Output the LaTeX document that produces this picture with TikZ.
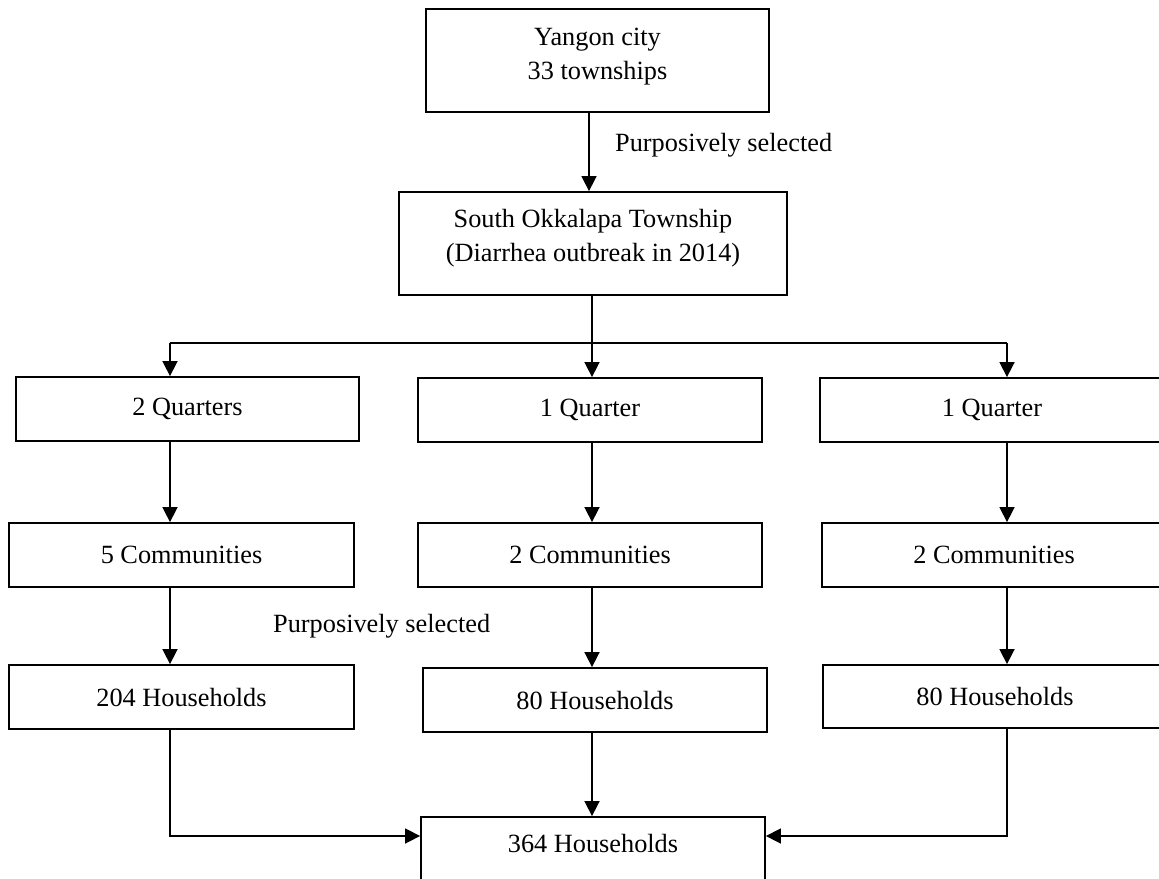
\documentclass[tikz,border=0pt]{standalone}
\usepackage{fontspec}
\setmainfont{Liberation Serif}
\usetikzlibrary{arrows.meta}
\begin{document}
\begin{tikzpicture}[x=1pt,y=-1pt,
  box/.style={draw, line width=1.8pt, inner sep=0pt, align=center,
    font=\fontsize{26.3}{34}\selectfont},
  conn/.style={line width=1.6pt},
  arr/.style={line width=1.6pt, -{Triangle[length=15pt,width=15pt]}},
  lbl/.style={font=\fontsize{26.3}{34}\selectfont, inner sep=0pt}]
\useasboundingbox (0,0) rectangle (1159,878);
% nodes
\node[box, minimum width=343pt, minimum height=103pt] (yangon) at (597.5,60.5) {Yangon city\\33 townships\rule[-14pt]{0pt}{0pt}};
\node[box, minimum width=388pt, minimum height=103pt] (south) at (593,243.5) {South Okkalapa Township\\(Diarrhea outbreak in 2014)\rule[-16pt]{0pt}{0pt}};
\node[box, minimum width=343pt, minimum height=64pt] (q1) at (187.5,409) {2 Quarters};
\node[box, minimum width=344pt, minimum height=64pt] (q2) at (590,410) {1 Quarter};
\node[box, minimum width=344pt, minimum height=64pt] (q3) at (992,410) {1 Quarter};
\node[box, minimum width=345pt, minimum height=64pt] (c1) at (181.5,555) {5 Communities};
\node[box, minimum width=344pt, minimum height=64pt] (c2) at (590,555) {2 Communities};
\node[box, minimum width=344pt, minimum height=64pt] (c3) at (994,555) {2 Communities};
\node[box, minimum width=345pt, minimum height=64pt] (h1) at (181.5,697) {204 Households};
\node[box, minimum width=344pt, minimum height=64pt] (h2) at (595,700) {80 Households};
\node[box, minimum width=344pt, minimum height=63pt] (h3) at (995,696.5) {80 Households};
\node[box, minimum width=344pt, minimum height=64pt] (total) at (593,849) {364 Households\rule[-12pt]{0pt}{0pt}};
\node[lbl, anchor=west] (sel1) at (615,145) {Purposively selected};
\node[lbl, anchor=west] (sel2) at (273,626) {Purposively selected};
% reference coordinates
\coordinate (xA) at (589,0);
\coordinate (xB) at (592,0);
\coordinate (xL) at (170,0);
\coordinate (xR) at (1007,0);
\coordinate (yJ) at (0,343);
\coordinate (yF) at (0,836);
% connectors
\draw[arr] (yangon.south -| xA) -- (south.north -| xA);
\draw[conn] (south.south -| xB) -- (xB |- yJ);
\draw[conn] (xL |- yJ) -- (xR |- yJ);
\draw[arr] (xL |- yJ) -- (q1.north -| xL);
\draw[arr] (xB |- yJ) -- (q2.north -| xB);
\draw[arr] (xR |- yJ) -- (q3.north -| xR);
\draw[arr] (q1.south -| xL) -- (c1.north -| xL);
\draw[arr] (q2.south -| xB) -- (c2.north -| xB);
\draw[arr] (q3.south -| xR) -- (c3.north -| xR);
\draw[arr] (c1.south -| xL) -- (h1.north -| xL);
\draw[arr] (c2.south -| xB) -- (h2.north -| xB);
\draw[arr] (c3.south -| xR) -- (h3.north -| xR);
\draw[arr] (h2.south -| xB) -- (total.north -| xB);
\draw[arr] (h1.south -| xL) |- (total.west |- yF);
\draw[arr] (h3.south -| xR) |- (total.east |- yF);
\end{tikzpicture}
\end{document}
